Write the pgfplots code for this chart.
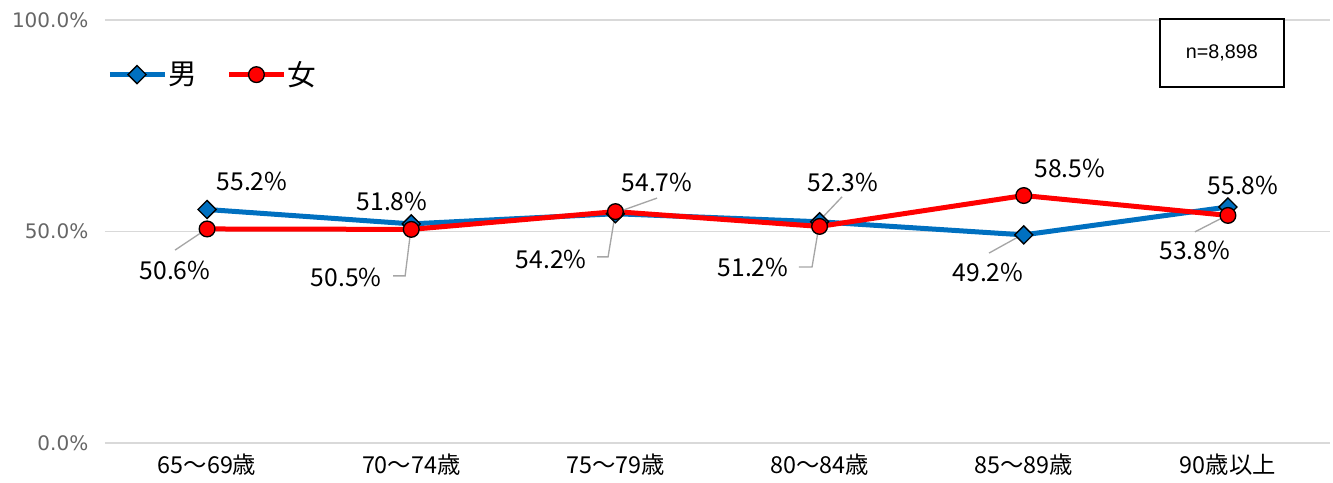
\documentclass[border=0pt]{standalone}
\usepackage{fontspec}
\setmainfont{Noto Sans CJK JP}
\newfontfamily\arialfont{Liberation Sans}
\newfontfamily\dejavu{DejaVu Sans}
\usepackage{pgfplots}
\pgfplotsset{compat=1.18}
\definecolor{mblue}{HTML}{0070C0}
\definecolor{fred}{HTML}{FF0000}
\definecolor{gridgray}{HTML}{D9D9D9}
\definecolor{tickgray}{HTML}{666666}
\definecolor{leadgray}{HTML}{A6A6A6}
\newcommand\dl{\fontsize{18.5}{20}\selectfont}
\begin{document}
\begin{tikzpicture}
\useasboundingbox (-78.75pt,-29.25pt) rectangle (921pt,332.25pt);
\begin{axis}[
  at={(0,0)}, anchor=south west,
  scale only axis, width=918.75pt, height=317.25pt,
  xmin=-0.5, xmax=5.5, ymin=0, ymax=100,
  clip=false,
  xtick={0,1,2,3,4,5},
  xticklabels={65～69歳,70～74歳,75～79歳,80～84歳,85～89歳,90歳以上},
  ytick={0,50,100}, yticklabels={0.0\%,50.0\%,100.0\%},
  axis line style={draw=none},
  major tick length=0pt,
  ymajorgrids, grid style={gridgray, line width=1pt},
  yticklabel style={font=\dejavu\fontsize{15}{17}\selectfont, text=tickgray, xshift=-9pt},
  xticklabel style={font=\fontsize{17.5}{19}\selectfont, text=black, yshift=-5pt},
  legend style={at={(rel axis cs:0,1)}, anchor=north west, xshift=1.5pt, yshift=-31pt,
    draw=none, fill=none, font=\fontsize{21.5}{23}\selectfont,
    legend columns=2, inner sep=0pt,
    nodes={inner xsep=1pt, inner ysep=0pt},
    /tikz/every even column/.append style={column sep=21pt}},
  legend image code/.code={\draw[mark repeat=2,mark phase=2] plot coordinates {(0cm,0cm)(0.72cm,0cm)(1.45cm,0cm)};},
]
\addplot[mblue, line width=3.75pt, mark=square*, mark size=4.8pt,
  mark options={fill=mblue, draw=black, line width=1pt, rotate=45}]
  coordinates {(0,55.2)(1,51.8)(2,54.2)(3,52.3)(4,49.2)(5,55.8)};
\addlegendentry{男}
\addplot[fred, line width=3.75pt, mark=*, mark size=5.9pt,
  mark options={fill=fred, draw=black, line width=1pt}]
  coordinates {(0,50.6)(1,50.5)(2,54.7)(3,51.2)(4,58.5)(5,53.8)};
\addlegendentry{女}

% leader lines
\draw[leadgray, line width=1pt] (axis cs:-0.157,45.6) -- (axis cs:-0.024,49.9);
\draw[leadgray, line width=1pt] (axis cs:0.911,39.5) -- (axis cs:0.970,39.5) -- (axis cs:0.994,48.9);
\draw[leadgray, line width=1pt] (axis cs:2.204,57.9) -- (axis cs:2.023,54.8);
\draw[leadgray, line width=1pt] (axis cs:1.910,44.0) -- (axis cs:1.964,44.0) -- (axis cs:1.998,53.9);
\draw[leadgray, line width=1pt] (axis cs:3.110,58.2) -- (axis cs:3.002,52.7);
\draw[leadgray, line width=1pt] (axis cs:2.899,41.6) -- (axis cs:2.963,41.6) -- (axis cs:2.992,49.9);
\draw[leadgray, line width=1pt] (axis cs:3.830,44.9) -- (axis cs:3.972,48.7);
\draw[leadgray, line width=1pt] (axis cs:4.838,49.9) -- (axis cs:4.971,53.2);

% data labels
\node[font=\dl] at (axis cs:0.22,61.9) {55.2\%};
\node[font=\dl] at (axis cs:-0.157,40.9) {50.6\%};
\node[font=\dl] at (axis cs:0.906,57.0) {51.8\%};
\node[font=\dl] at (axis cs:0.681,39.2) {50.5\%};
\node[font=\dl] at (axis cs:2.204,61.7) {54.7\%};
\node[font=\dl] at (axis cs:1.685,43.5) {54.2\%};
\node[font=\dl] at (axis cs:3.115,61.7) {52.3\%};
\node[font=\dl] at (axis cs:2.674,41.4) {51.2\%};
\node[font=\dl] at (axis cs:4.226,65.0) {58.5\%};
\node[font=\dl] at (axis cs:3.825,40.2) {49.2\%};
\node[font=\dl] at (axis cs:5.074,60.8) {55.8\%};
\node[font=\dl] at (axis cs:4.838,45.6) {53.8\%};

% n box
\draw[black, line width=1.1pt, fill=white] (axis cs:4.667,100.2) rectangle (axis cs:5.274,84.2);
\node[font=\arialfont\fontsize{14.8}{16}\selectfont] at (axis cs:4.970,92.2) {n=8,898};
\end{axis}
\end{tikzpicture}
\end{document}
